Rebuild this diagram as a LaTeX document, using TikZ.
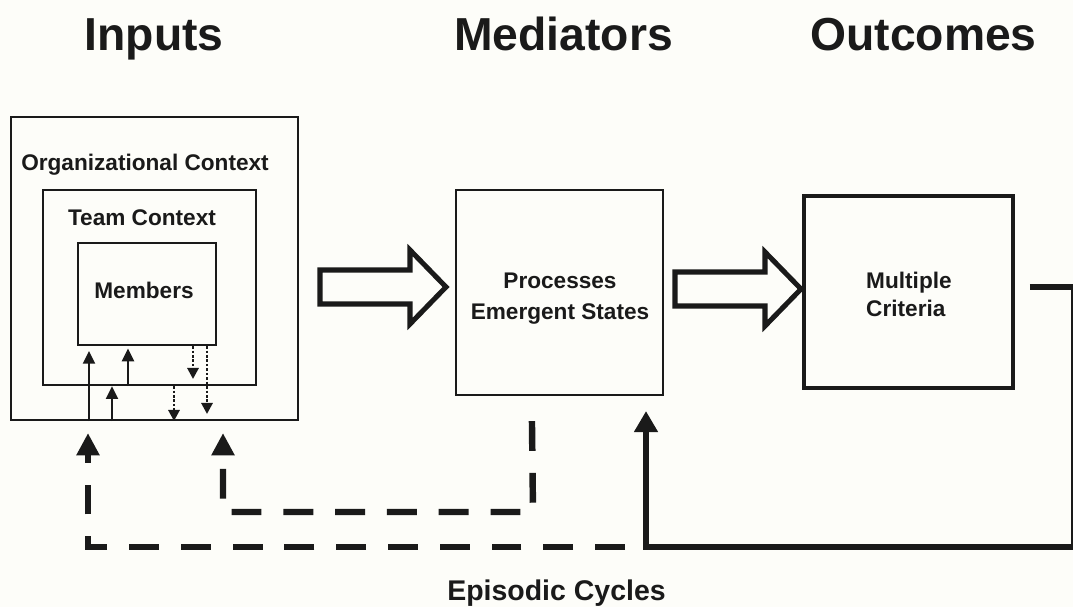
\documentclass[tikz,border=0pt]{standalone}
\usepackage{fontspec}
\setmainfont{Liberation Sans}
\usepackage{xcolor}
\usetikzlibrary{arrows.meta, calc}
\definecolor{ink}{RGB}{26, 26, 26}
\definecolor{paper}{RGB}{253, 253, 249}
\newcommand{\pxu}{0.03cm}
\newcommand{\bigarrow}[1]{%
  \draw[blockarrow] (#1) ++(0,-17) -- ++(90,0) -- ++(0,-20) -- ++(36,37)
    -- ++(-36,37) -- ++(0,-20) -- ++(-90,0) -- cycle;}

\begin{document}
\begin{tikzpicture}[x=0.03cm, y=-0.03cm,
    box/.style={rectangle, draw=ink, line width=1.8pt, inner sep=0pt},
    lbl/.style={text=ink, inner sep=0pt, font=\fontsize{19.3}{27}\selectfont\bfseries},
    heading/.style={text=ink, inner sep=0pt, anchor=base,
                    font=\fontsize{39.5}{47}\selectfont\bfseries},
    uparrow/.style={draw=ink, line width=2.5pt, -{Triangle[length=11pt, width=10pt]}},
    downarrow/.style={draw=ink, line width=2.3pt, dash pattern=on 2.2pt off 1.6pt,
                      -{Triangle[length=9.5pt, width=9.5pt]}},
    blockarrow/.style={draw=ink, line width=4.3pt, line join=miter, fill=paper},
    feedback/.style={draw=ink, line width=5pt, -{Triangle[length=18pt, width=19.5pt]}},
    dashloop/.style={draw=ink, line width=5.5pt, dash pattern=on 25.5pt off 18.7pt,
                     -{Triangle[length=19pt, width=18.7pt]}}
]

%% Page
\fill[paper] (0,0) rectangle (1073,607);
\useasboundingbox (0,0) rectangle (1073,607);

%% Column headings
\node[heading] (hin)  at (154,50)   {Inputs};
\node[heading] (hmed) at (563.5,50) {Mediators};
\node[heading] (hout) at (923.5,50) {Outcomes};

%% Nested input boxes
\node[box, minimum width=287*\pxu, minimum height=303*\pxu] (org)  at (154.5,268.5) {};
\node[box, minimum width=213*\pxu, minimum height=195*\pxu] (team) at (149.5,287.5) {};
\node[box, minimum width=138*\pxu, minimum height=102*\pxu] (mem)  at (147,294)     {};

\node[lbl, anchor=base] (orgtxt)  at (145,170) {Organizational Context};
\node[lbl, anchor=base] (teamtxt) at (142,225) {Team Context};
\node[lbl, anchor=base] (memtxt)  at (144,298) {Members};

%% Mediators and outcomes
\node[box, minimum width=207*\pxu, minimum height=205*\pxu] (proc) at (559.5,292.5) {};
\node[box, line width=3pt, minimum width=209*\pxu, minimum height=192*\pxu] (crit) at (908.5,292) {};

\node[lbl, align=center] (proctxt) at (560,298.5) {Processes\\Emergent States};
\node[lbl, align=left, anchor=west, font=\fontsize{19.3}{24}\selectfont\bfseries]
     (crittxt) at (866,294.8) {Multiple\\Criteria};

%% Block arrows
\bigarrow{320,287}
\bigarrow{675,289}

%% Cross-level arrows (up: solid, down: dotted)
\draw[uparrow, shorten >=4pt]   (89,0 |- org.south)  -- (89,0 |- mem.south);
\draw[uparrow]                  (112,0 |- org.south) -- (112,0 |- team.south);
\draw[uparrow, shorten >=2pt]   (128,0 |- team.south) -- (128,0 |- mem.south);
\draw[downarrow, shorten >=6pt] (193,0 |- mem.south) -- (193,0 |- team.south);
\draw[downarrow, shorten >=6pt] (207,0 |- mem.south) -- (207,0 |- org.south);
\draw[downarrow]                (174,0 |- team.south) -- (174,0 |- org.south);

%% Episodic feedback loops
\coordinate (outR)  at (1074,287);
\coordinate (loopB) at (646,547);

\draw[feedback] ($(crit.east)+(15,-5)$) -- (outR) |- (loopB)
      -- ($(loopB |- proc.south)+(0,15)$);
\draw[dashloop] ($(loopB)+(-21,0)$) -- (88,547) -- ($(88,0 |- org.south)+(0,12)$);
\draw[dashloop] ($(proc.south west)+(77,25)$) -- (533,512) -- (223,512)
      -- ($(223,0 |- org.south)+(0,12)$);

\node[lbl, anchor=base, font=\fontsize{24.3}{29}\selectfont\bfseries] (cyc) at (556.5,600) {Episodic Cycles};

\end{tikzpicture}
\end{document}
